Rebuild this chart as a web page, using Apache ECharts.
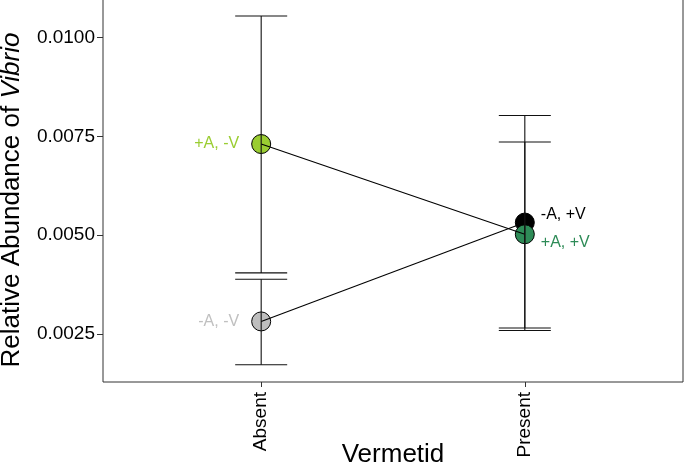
<!DOCTYPE html>
<html>
<head>
<meta charset="utf-8">
<script src="https://cdn.jsdelivr.net/npm/echarts@6/dist/echarts.min.js"></script>
<style>
  html, body { margin: 0; padding: 0; background: #fff; }
  #chart { width: 685px; height: 464px; }
</style>
</head>
<body>
<div id="chart"></div>
<script>
// categories on the x axis
const categories = ['Absent', 'Present'];
// treatment groups (label, category index, mean, error bar)
const groups = ['-A, -V', '+A, -V', '-A, +V', '+A, +V'];
const groupCat = [0, 0, 1, 1];
const means = [0.002819, 0.007308, 0.005321, 0.005025];
const lowers = [0.001724, 0.004047, 0.002591, 0.002652];
const uppers = [0.003887, 0.010549, 0.008031, 0.007358];
// y tick labels
const yTicks = [0.0025, 0.0050, 0.0075, 0.0100];

// styles per group
const fills = ['#bebebe', '#9acd32', '#000000', '#2e8b57'];
const labelColors = ['#c0c0c0', '#9acd32', '#000000', '#2e8b57'];
const labelStyle = [
  { position: 'left', distance: 12, offset: [0, 0] },
  { position: 'left', distance: 12, offset: [0, 0] },
  { position: 'right', distance: 6, offset: [0, -8] },
  { position: 'right', distance: 6, offset: [0, 8] }
];

const chart = echarts.init(document.getElementById('chart'));
const font = 'Liberation Sans, Arial, sans-serif';

const pointData = groups.map((g, i) => ({
  name: g,
  value: [groupCat[i] + 1, means[i]],
  itemStyle: { color: fills[i], borderColor: '#000', borderWidth: 1, opacity: 1 },
  label: {
    show: true, formatter: g, color: labelColors[i],
    fontSize: 16, fontFamily: font, ...labelStyle[i]
  }
}));

// lines join same "A" treatment across vermetid levels
const plusA = [1, 3].map(i => [groupCat[i] + 1, means[i]]);
const minusA = [0, 2].map(i => [groupCat[i] + 1, means[i]]);

const errData = groups.map((g, i) => [groupCat[i] + 1, lowers[i], uppers[i]]);

chart.setOption({
  animation: false,
  grid: {
    left: 103, right: 2, top: -2, bottom: 82, outerBoundsMode: 'none',
    show: true, borderColor: '#333', borderWidth: 1
  },
  xAxis: {
    type: 'value', min: 0.4, max: 2.6,
    name: 'Vermetid', nameLocation: 'middle', nameGap: 60, nameMoveOverlap: false,
    nameTextStyle: { fontSize: 26, fontFamily: font, color: '#000' },
    axisLine: { show: false },
    splitLine: { show: false },
    axisTick: { show: true, length: 5, customValues: [1, 2], lineStyle: { color: '#333' } },
    axisLabel: {
      customValues: [1, 2], rotate: 90, margin: 10,
      fontSize: 19, fontFamily: font, color: '#000',
      formatter: v => categories[Math.round(v) - 1]
    }
  },
  yAxis: {
    type: 'value', min: 0.001286, max: 0.011004,
    name: '{a|Relative Abundance of }{b|Vibrio}', nameLocation: 'middle', nameGap: 78,
    nameMoveOverlap: false,
    nameTextStyle: {
      padding: [0, 20, 0, 0],
      rich: {
        a: { fontSize: 26, fontFamily: font, color: '#000' },
        b: { fontSize: 26, fontFamily: font, color: '#000', fontStyle: 'italic' }
      }
    },
    axisLine: { show: false },
    splitLine: { show: false },
    axisTick: { show: true, length: 6, customValues: yTicks, lineStyle: { color: '#333' } },
    axisLabel: {
      customValues: yTicks, margin: 8,
      fontSize: 19, fontFamily: font, color: '#000',
      formatter: v => v.toFixed(4)
    }
  },
  series: [
    {
      type: 'scatter', z: 2, symbolSize: 19, data: pointData,
      emphasis: { disabled: true }
    },
    {
      type: 'line', z: 3, data: plusA, symbol: 'none',
      lineStyle: { color: '#000', width: 1.1 }
    },
    {
      type: 'line', z: 3, data: minusA, symbol: 'none',
      lineStyle: { color: '#000', width: 1.1 }
    },
    {
      type: 'custom', z: 4, data: errData,
      renderItem(params, api) {
        const x = api.value(0);
        const lo = api.coord([x, api.value(1)]);
        const hi = api.coord([x, api.value(2)]);
        const hw = 26;
        const style = { stroke: '#111', lineWidth: 1.1 };
        return {
          type: 'group',
          children: [
            { type: 'line', shape: { x1: lo[0], y1: lo[1], x2: hi[0], y2: hi[1] }, style },
            { type: 'line', shape: { x1: lo[0] - hw, y1: lo[1], x2: lo[0] + hw, y2: lo[1] }, style },
            { type: 'line', shape: { x1: hi[0] - hw, y1: hi[1], x2: hi[0] + hw, y2: hi[1] }, style }
          ]
        };
      }
    }
  ]
});
</script>
</body>
</html>
